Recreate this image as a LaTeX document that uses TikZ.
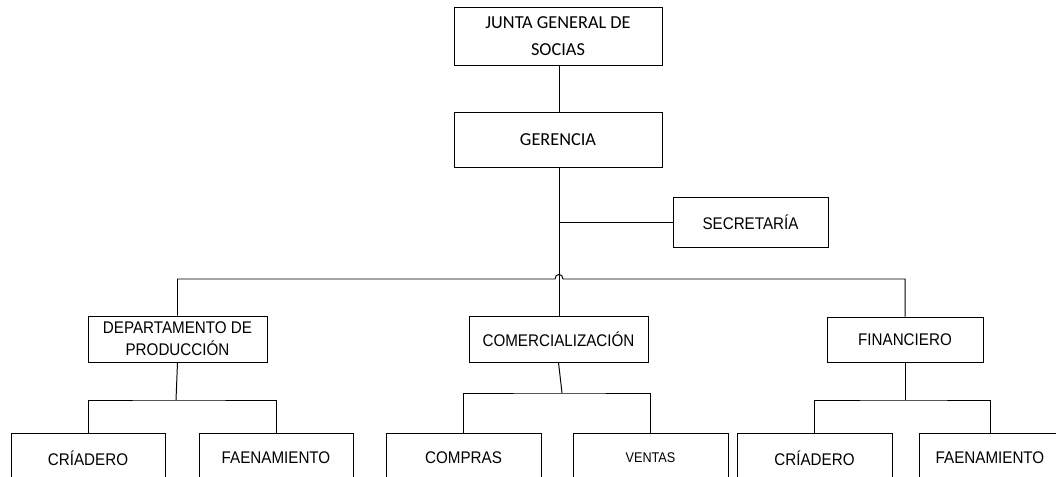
\documentclass[tikz,border=0pt]{standalone}
\usepackage{fontspec}
\setmainfont{Liberation Sans}[FakeStretch=0.9]
\newfontfamily\calibrifont{Carlito}
\usetikzlibrary{positioning}
\newcommand\pxu{0.025cm}

\begin{document}
\begin{tikzpicture}[x=0.025cm, y=-0.025cm, line width=0.7pt,
    caja/.style={draw, line width=0.7pt, align=center, inner sep=0pt,
      font=\fontsize{12}{15.6}\selectfont},
    cajatop/.style={caja, font=\calibrifont\fontsize{13}{19}\selectfont}]
        \useasboundingbox (0,0) rectangle (1056,477);
        \clip (0,0) rectangle (1056,477);
        % niveles superiores
        \node[cajatop, minimum width=208*\pxu, minimum height=58*\pxu] (junta) at (558,36) {JUNTA GENERAL DE\\SOCIAS};
        \node[cajatop, minimum width=208*\pxu, minimum height=55*\pxu] (gerencia) at (558,139.5) {GERENCIA};
        \node[caja, minimum width=155*\pxu, minimum height=50*\pxu] (secretaria) at (750.5,222) {SECRETAR\'IA};
        % departamentos
        \node[caja, minimum width=179*\pxu, minimum height=46*\pxu] (depto) at (177.5,339) {DEPARTAMENTO DE\\PRODUCCI\'ON};
        \node[caja, minimum width=179*\pxu, minimum height=46*\pxu] (comer) at (558.5,339) {COMERCIALIZACI\'ON};
        \node[caja, minimum width=156*\pxu, minimum height=45*\pxu] (finan) at (905,339.5) {FINANCIERO};
        % secciones (cortadas por el borde inferior)
        \node[caja, minimum width=154*\pxu, minimum height=50*\pxu] (cria1) at (88,458) {CR\'IADERO};
        \node[caja, minimum width=154*\pxu, minimum height=50*\pxu] (faen1) at (276,458) {FAENAMIENTO};
        \node[caja, minimum width=155*\pxu, minimum height=50*\pxu] (compras) at (463.5,458) {COMPRAS};
        \node[caja, minimum width=155*\pxu, minimum height=50*\pxu, font=\fontsize{10}{12}\selectfont] (ventas) at (650.5,458) {VENTAS};
        \node[caja, minimum width=155*\pxu, minimum height=50*\pxu] (cria2) at (814.5,458) {CR\'IADERO};
        \node[caja, minimum width=142*\pxu, minimum height=50*\pxu] (faen2) at (990,458) {FAENAMIENTO};
        % conectores
        \coordinate (eje) at (559,0);
        \coordinate (saltoA) at (555,279);
        \coordinate (saltoB) at (563,279);
        \draw (junta.south -| eje) -- (gerencia.north -| eje);
        \draw (gerencia.south -| eje) -- (comer.north -| eje);
        \draw (secretaria.west) -- (secretaria.west -| eje);
        \draw (depto.north) |- (saltoA) .. controls +(0,-6) and +(0,-6) .. (saltoB) -| (finan.north);
        \coordinate (bd) at (176,400);
        \coordinate (bc) at (562,393);
        \coordinate (bf) at (905,400);
        \draw (depto.south) -- (bd);
        \draw (cria1.north) |- (bd) -| (faen1.north);
        \draw (comer.south) -- (bc);
        \draw (compras.north) |- (bc) -| (ventas.north);
        \draw (finan.south) -- (bf);
        \draw (cria2.north) |- (bf) -| (faen2.north);
      \end{tikzpicture}
\end{document}
